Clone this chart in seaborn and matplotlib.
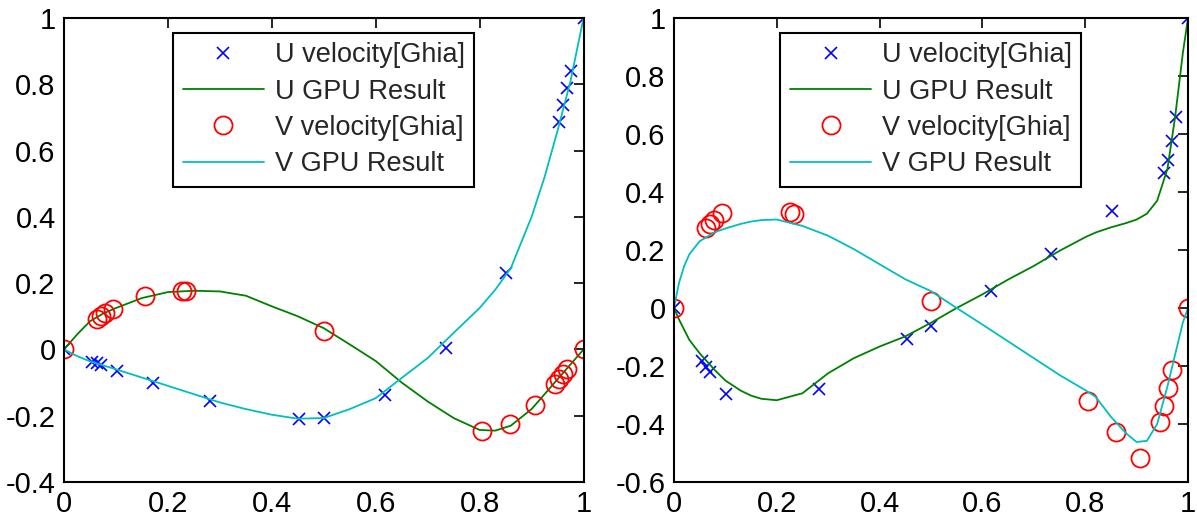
import matplotlib
matplotlib.use("Agg")
import matplotlib.pyplot as plt
import seaborn as sns

# ── Ghia et al. benchmark points, left panel ───────────────────────────
u_pos_l = [1.0, 0.9766, 0.9688, 0.9609, 0.9531, 0.8516, 0.7344, 0.6172,
           0.5, 0.4531, 0.2813, 0.1719, 0.1016, 0.0703, 0.0625, 0.0547, 0.0]
u_ghia_l = [1.0, 0.84123, 0.78871, 0.73722, 0.68717, 0.23151, 0.00332, -0.13641,
            -0.20581, -0.2109, -0.15662, -0.1015, -0.06434, -0.04775, -0.04192, -0.03717, 0.0]
v_pos_l = [1.0, 0.9688, 0.9609, 0.9531, 0.9453, 0.9063, 0.8594, 0.8047,
           0.5, 0.2344, 0.2266, 0.1563, 0.0938, 0.0781, 0.0703, 0.0625, 0.0]
v_ghia_l = [0.0, -0.05906, -0.07391, -0.08864, -0.10313, -0.16914, -0.22445, -0.24533,
            0.05454, 0.17527, 0.17507, 0.16077, 0.12317, 0.1089, 0.10091, 0.09233, 0.0]

# GPU curves, left panel
gpu_x_l = [0.0, 0.025, 0.05, 0.075, 0.1, 0.15, 0.2, 0.25, 0.3, 0.35, 0.4, 0.45, 0.5, 0.55,
           0.6, 0.65, 0.7, 0.75, 0.8, 0.83, 0.86, 0.9, 0.925, 0.95, 0.975, 1.0]
u_gpu_l = [0.0, 0.045, 0.085, 0.108, 0.125, 0.155, 0.173, 0.177, 0.175, 0.162, 0.13, 0.1,
           0.064, 0.015, -0.035, -0.1, -0.157, -0.207, -0.243, -0.245, -0.23, -0.18,
           -0.135, -0.09, -0.045, 0.0]
v_gpu_l = [0.0, -0.02, -0.036, -0.048, -0.06, -0.085, -0.11, -0.135, -0.16, -0.18, -0.197,
           -0.209, -0.207, -0.18, -0.147, -0.086, -0.026, 0.05, 0.125, 0.18, 0.245, 0.40,
           0.52, 0.66, 0.81, 1.0]

# ── Ghia et al. benchmark points, right panel ──────────────────────────
u_pos_r = [1.0, 0.9766, 0.9688, 0.9609, 0.9531, 0.8516, 0.7344, 0.6172,
           0.5, 0.4531, 0.2813, 0.1016, 0.0703, 0.0625, 0.0547, 0.0]
u_ghia_r = [1.0, 0.65928, 0.57492, 0.51117, 0.46604, 0.33304, 0.18719, 0.05702,
            -0.0608, -0.10648, -0.27805, -0.2973, -0.2222, -0.20196, -0.18109, 0.0]
v_pos_r = [1.0, 0.9688, 0.9609, 0.9531, 0.9453, 0.9063, 0.8594, 0.8047,
           0.5, 0.2344, 0.2266, 0.0938, 0.0781, 0.0703, 0.0625, 0.0]
v_ghia_r = [0.0, -0.21388, -0.27669, -0.33714, -0.39188, -0.5155, -0.42665, -0.31966,
            0.02526, 0.32235, 0.33075, 0.32627, 0.30353, 0.29012, 0.27485, 0.0]

# GPU curves, right panel
gpu_x_r = [0.0, 0.01, 0.02, 0.03, 0.05, 0.08, 0.1, 0.13, 0.15, 0.17, 0.2, 0.25, 0.3, 0.35,
           0.4, 0.45, 0.5, 0.55, 0.6, 0.65, 0.7, 0.75, 0.8, 0.82, 0.85, 0.88, 0.9, 0.92,
           0.94, 0.96, 0.975, 0.99, 1.0]
u_gpu_r = [0.0, -0.04, -0.075, -0.11, -0.156, -0.215, -0.25, -0.285, -0.302, -0.313, -0.318,
           -0.294, -0.225, -0.173, -0.133, -0.098, -0.051, 0.0, 0.047, 0.098, 0.145, 0.197,
           0.244, 0.26, 0.278, 0.293, 0.305, 0.325, 0.37, 0.48, 0.66, 0.88, 1.0]
v_gpu_r = [0.0, 0.087, 0.145, 0.185, 0.23, 0.262, 0.274, 0.29, 0.298, 0.303, 0.305, 0.283,
           0.249, 0.203, 0.151, 0.099, 0.058, 0.0, -0.057, -0.115, -0.173, -0.231, -0.283,
           -0.306, -0.375, -0.433, -0.462, -0.458, -0.4, -0.27, -0.16, -0.05, 0.0]

labels = ["U velocity[Ghia]", "U GPU Result", "V velocity[Ghia]", "V GPU Result"]

sns.set_style("white")
plt.rcParams["font.family"] = ["Liberation Sans", "DejaVu Sans"]

fig = plt.figure(figsize=(11.97, 5.22), dpi=100)
ax_l = fig.add_axes([0.0535, 0.0766, 0.434, 0.889])
ax_r = fig.add_axes([0.563, 0.0766, 0.4295, 0.889])

panels = [
    (ax_l, u_pos_l, u_ghia_l, gpu_x_l, u_gpu_l, v_pos_l, v_ghia_l, v_gpu_l, -0.4),
    (ax_r, u_pos_r, u_ghia_r, gpu_x_r, u_gpu_r, v_pos_r, v_ghia_r, v_gpu_r, -0.6),
]

for ax, up, ug, gx, ugpu, vp, vg, vgpu, ymin in panels:
    sns.lineplot(x=up, y=ug, ax=ax, color="#0000FF", linestyle="", marker="x",
                 markersize=8, markeredgewidth=1.2, markeredgecolor="#0000FF",
                 estimator=None, sort=False, label=labels[0])
    sns.lineplot(x=gx, y=ugpu, ax=ax, color="#008000", linewidth=1.3,
                 estimator=None, sort=False, label=labels[1])
    sns.lineplot(x=vp, y=vg, ax=ax, color="#FF0000", linestyle="", marker="o",
                 markersize=13, markerfacecolor="none", markeredgecolor="#FF0000",
                 markeredgewidth=1.3, estimator=None, sort=False, label=labels[2])
    sns.lineplot(x=gx, y=vgpu, ax=ax, color="#00BFBF", linewidth=1.3,
                 estimator=None, sort=False, label=labels[3])

    ax.set_xlim(0, 1)
    ax.set_ylim(ymin, 1)
    ax.set_xticks([0, 0.2, 0.4, 0.6, 0.8, 1])
    ax.set_xticklabels(["0", "0.2", "0.4", "0.6", "0.8", "1"])
    yt = [round(ymin + 0.2 * i, 1) for i in range(int(round((1 - ymin) / 0.2)) + 1)]
    ax.set_yticks(yt)
    ax.set_yticklabels(["0" if v == 0 else ("1" if v == 1 else f"{v:g}") for v in yt])
    ax.set_xlabel("")
    ax.set_ylabel("")
    ax.tick_params(direction="in", length=7, width=1.2, top=True, right=True,
                   labelsize=21, colors="black", pad=6)
    for sp in ax.spines.values():
        sp.set_color("black")
        sp.set_linewidth(1.5)

    leg = ax.legend(loc="upper center", bbox_to_anchor=(0.5, 0.968), fontsize=19.5,
                    frameon=True, fancybox=False, edgecolor="black", framealpha=1,
                    borderpad=0.35, labelspacing=0.38, handlelength=3.0,
                    handletextpad=0.4, borderaxespad=0)
    leg.get_frame().set_linewidth(1.5)

fig.savefig("out.png", dpi=100)
